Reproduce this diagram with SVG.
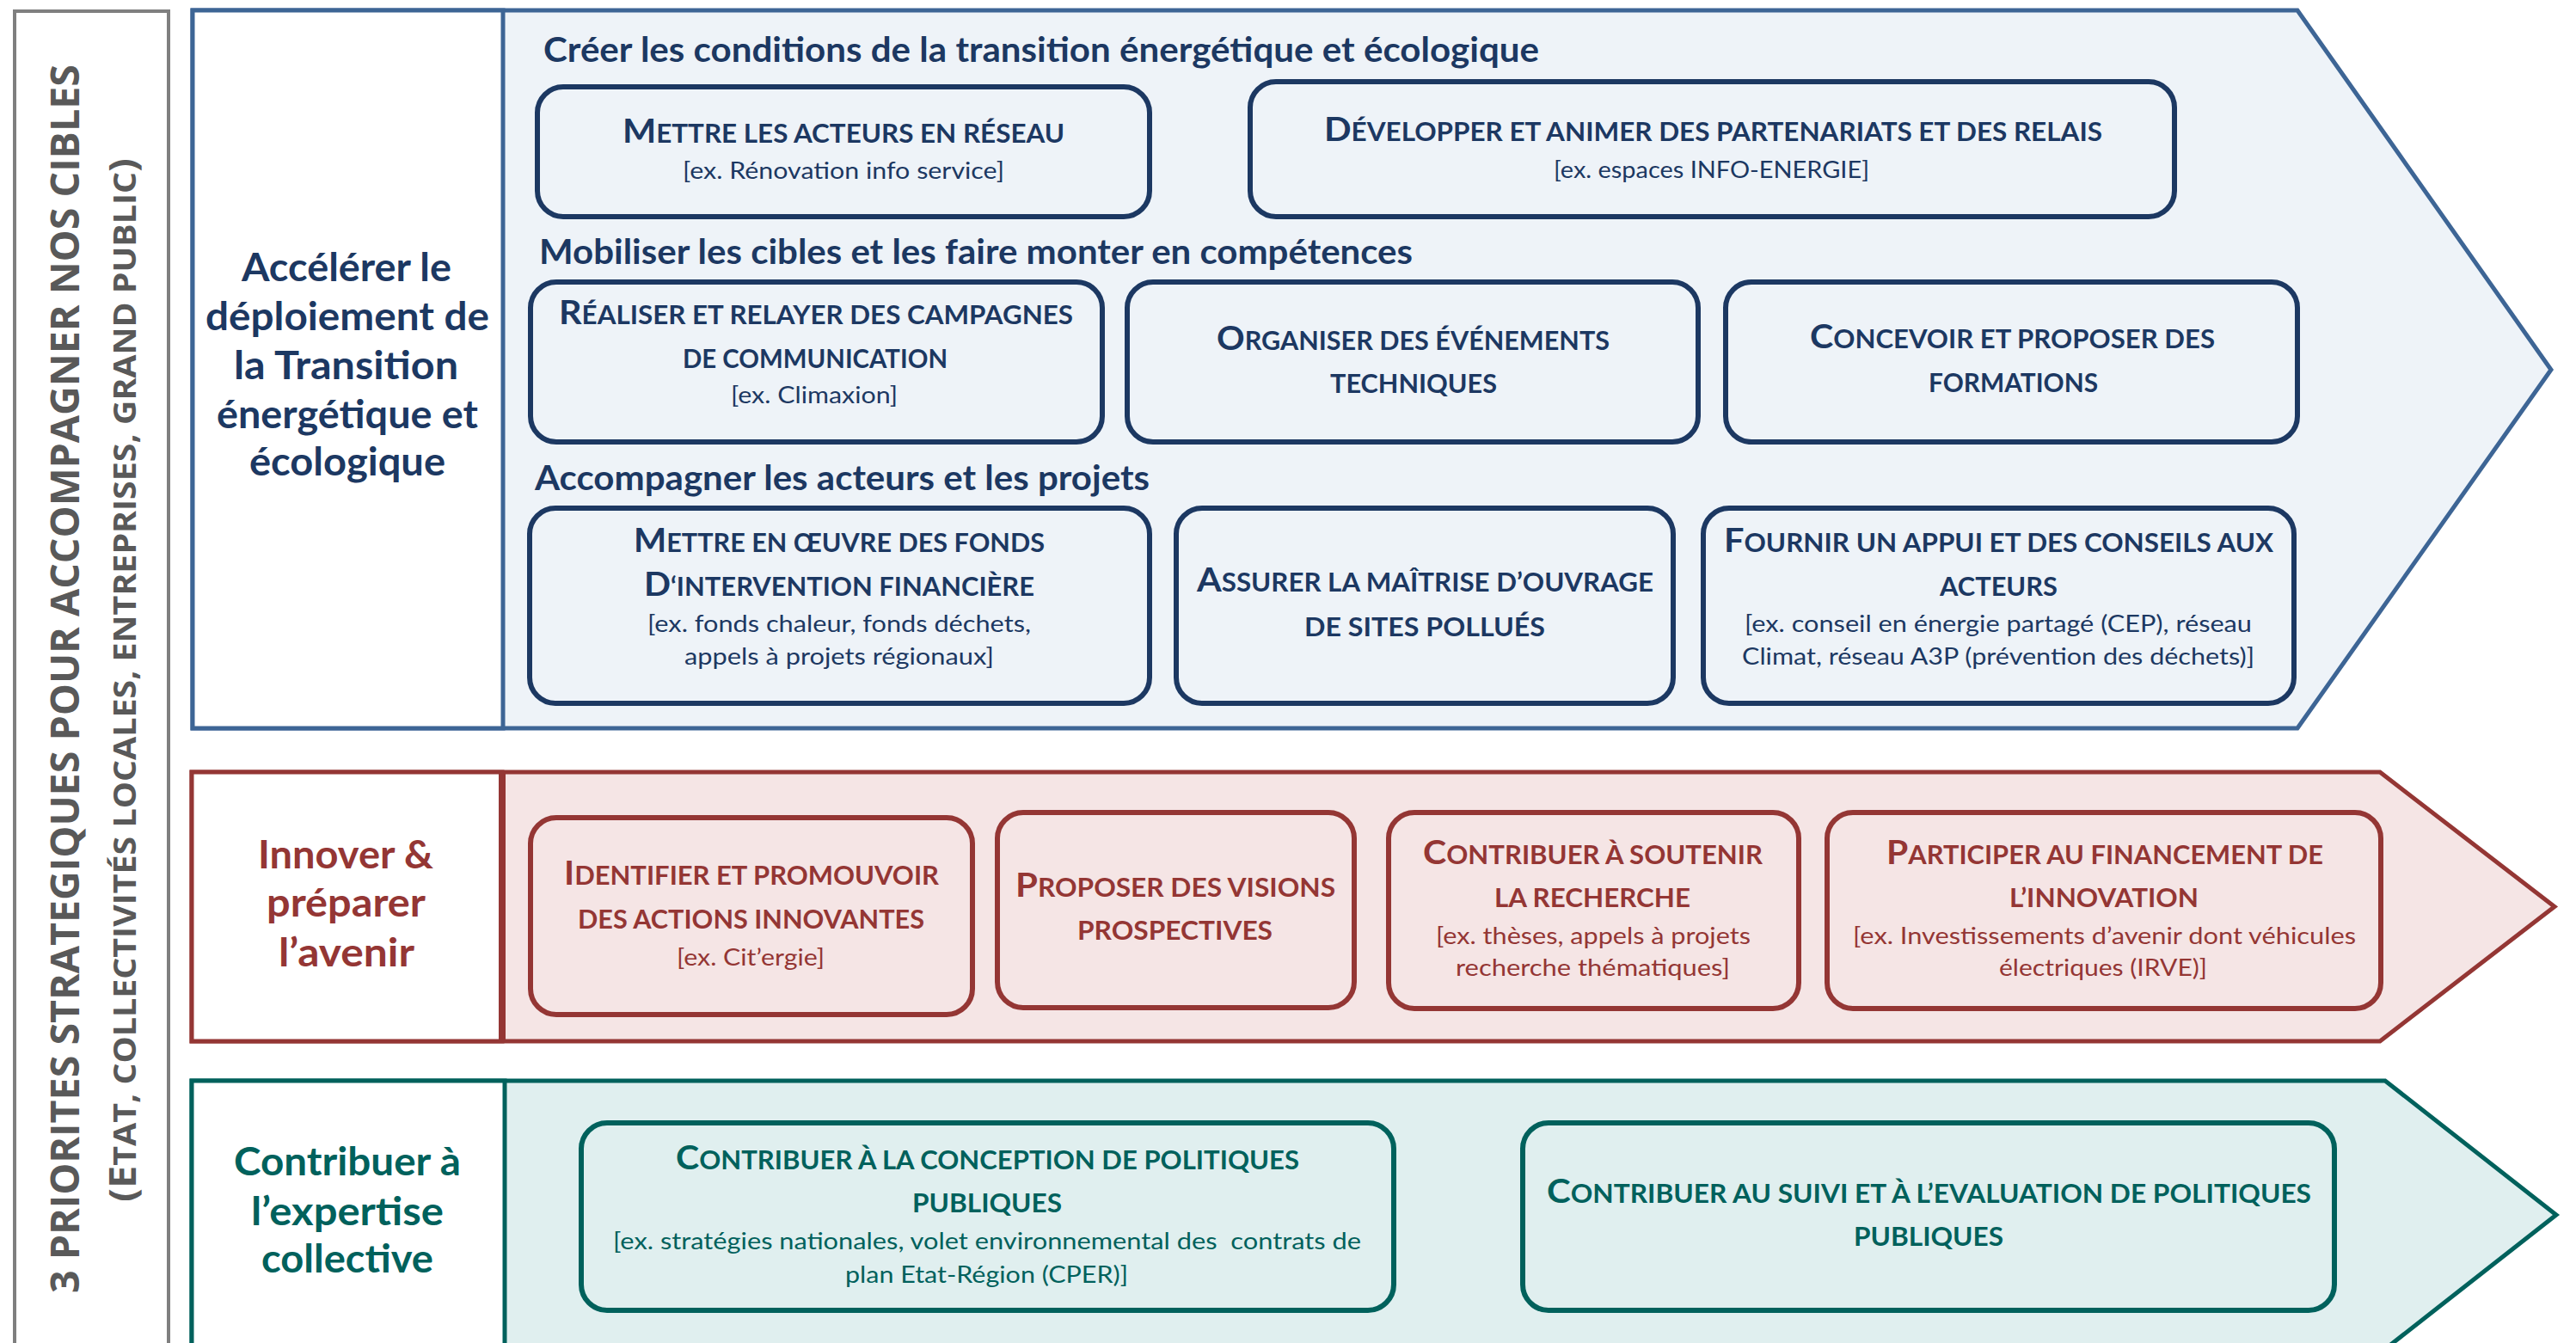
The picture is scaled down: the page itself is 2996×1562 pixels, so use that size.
<svg xmlns="http://www.w3.org/2000/svg" width="2996" height="1562" viewBox="0 0 2996 1562">
<style>
text{font-family:Lato,"Liberation Sans",sans-serif;}
.ti{font-weight:700;font-size:29.5px;}
.ti .c{font-size:39px;}
.su{font-weight:400;font-size:27px;}
.hd{font-weight:700;font-size:41px;}
.lt{font-weight:700;font-size:46px;}
.nb{fill:#1c3862;}
.nr{fill:#943634;}
.nt{fill:#00615c;}
.bx-b{fill:#eef3f8;stroke:#1c3862;stroke-width:6;}
.bx-r{fill:#f5e5e5;stroke:#943634;stroke-width:6;}
.bx-t{fill:#e0efef;stroke:#00615c;stroke-width:6;}
.sec-b{fill:#eef3f8;stroke:#3d6595;stroke-width:5;}
.sec-r{fill:#f5e5e5;stroke:#943634;stroke-width:5;}
.sec-t{fill:#e0efef;stroke:#00615c;stroke-width:5;}
.vt{font-family:"Open Sans","Noto Sans",sans-serif;font-weight:700;fill:#595959;}
</style>
<rect width="2996" height="1562" fill="#ffffff"/>

<g id="side">
<rect x="17" y="13" width="179" height="1600" fill="#ffffff" stroke="#7f7f7f" stroke-width="4"/>
<text class="vt" transform="translate(91.5,1504) rotate(-90)" x="0" y="0" font-size="46" textLength="1429" lengthAdjust="spacingAndGlyphs">3 PRIORITES STRATEGIQUES POUR ACCOMPAGNER NOS CIBLES</text>
<text class="vt" transform="translate(158,1398) rotate(-90)" x="0" y="0" font-size="36" textLength="1214" lengthAdjust="spacingAndGlyphs"><tspan font-size="43">(E</tspan>TAT, COLLECTIVITÉS LOCALES, ENTREPRISES, GRAND PUBLIC<tspan font-size="43">)</tspan></text>
</g>

<g id="section-blue">
<polygon class="sec-b" points="224,12 2672,12 2967,430 2672,847 224,847"/>
<rect x="224" y="12" width="361" height="835" fill="#ffffff" stroke="#3d6595" stroke-width="5"/>
<text class="lt nb" x="281" y="327" textLength="244" lengthAdjust="spacingAndGlyphs">Accélérer le</text>
<text class="lt nb" x="239" y="384" textLength="330" lengthAdjust="spacingAndGlyphs">déploiement de</text>
<text class="lt nb" x="272" y="441" textLength="261" lengthAdjust="spacingAndGlyphs">la Transition</text>
<text class="lt nb" x="252" y="498" textLength="304" lengthAdjust="spacingAndGlyphs">énergétique et</text>
<text class="lt nb" x="290" y="553" textLength="228" lengthAdjust="spacingAndGlyphs">écologique</text>
<text class="hd nb" x="632" y="72" textLength="1158" lengthAdjust="spacingAndGlyphs">Créer les conditions de la transition énergétique et écologique</text>
<text class="hd nb" x="627" y="307" textLength="1016" lengthAdjust="spacingAndGlyphs">Mobiliser les cibles et les faire monter en compétences</text>
<text class="hd nb" x="622" y="570" textLength="715" lengthAdjust="spacingAndGlyphs">Accompagner les acteurs et les projets</text>
</g>

<g id="section-red">
<polygon class="sec-r" points="223,898 2768,898 2971,1054.5 2768,1211 223,1211"/>
<rect x="223" y="898" width="361" height="313" fill="#ffffff" stroke="#943634" stroke-width="5"/>
<line x1="584" y1="898" x2="584" y2="1211" stroke="#943634" stroke-width="8"/>
<text class="lt nr" x="300" y="1010" textLength="204" lengthAdjust="spacingAndGlyphs">Innover &amp;</text>
<text class="lt nr" x="310" y="1066" textLength="185" lengthAdjust="spacingAndGlyphs">préparer</text>
<text class="lt nr" x="324" y="1124" textLength="158" lengthAdjust="spacingAndGlyphs">l’avenir</text>
</g>

<g id="section-teal">
<polygon class="sec-t" points="223,1257 2774,1257 2973,1413 2774,1569 223,1569"/>
<rect x="223" y="1257" width="364" height="320" fill="#ffffff" stroke="#00615c" stroke-width="5"/>
<text class="lt nt" x="272" y="1367" textLength="264" lengthAdjust="spacingAndGlyphs">Contribuer à</text>
<text class="lt nt" x="292" y="1425" textLength="224" lengthAdjust="spacingAndGlyphs">l’expertise</text>
<text class="lt nt" x="304" y="1480" textLength="200" lengthAdjust="spacingAndGlyphs">collective</text>
</g>

<g id="connectors"></g>

<g id="b1">
<rect class="bx-b" x="625" y="101" width="712" height="151" rx="30"/>
<text class="ti nb" x="724" y="166" textLength="514" lengthAdjust="spacingAndGlyphs"><tspan class="c">M</tspan>ETTRE LES ACTEURS EN RÉSEAU</text>
<text class="su nb" x="794" y="208" textLength="374" lengthAdjust="spacingAndGlyphs">[ex. Rénovation info service]</text>
</g>
<g id="b2">
<rect class="bx-b" x="1454" y="95" width="1075" height="157" rx="30"/>
<text class="ti nb" x="1540" y="164" textLength="905" lengthAdjust="spacingAndGlyphs"><tspan class="c">D</tspan>ÉVELOPPER ET ANIMER DES PARTENARIATS ET DES RELAIS</text>
<text class="su nb" x="1807" y="207" textLength="367" lengthAdjust="spacingAndGlyphs">[ex. espaces INFO-ENERGIE]</text>
</g>
<g id="b3">
<rect class="bx-b" x="617" y="328" width="665" height="186" rx="30"/>
<text class="ti nb" x="650" y="377" textLength="598" lengthAdjust="spacingAndGlyphs"><tspan class="c">R</tspan>ÉALISER ET RELAYER DES CAMPAGNES</text>
<text class="ti nb" x="794" y="428" textLength="308" lengthAdjust="spacingAndGlyphs">DE COMMUNICATION</text>
<text class="su nb" x="850" y="469" textLength="194" lengthAdjust="spacingAndGlyphs">[ex. Climaxion]</text>
</g>
<g id="b4">
<rect class="bx-b" x="1311" y="328" width="664" height="186" rx="30"/>
<text class="ti nb" x="1415" y="407" textLength="457" lengthAdjust="spacingAndGlyphs"><tspan class="c">O</tspan>RGANISER DES ÉVÉNEMENTS</text>
<text class="ti nb" x="1547" y="457" textLength="194" lengthAdjust="spacingAndGlyphs">TECHNIQUES</text>
</g>
<g id="b5">
<rect class="bx-b" x="2007" y="328" width="665" height="186" rx="30"/>
<text class="ti nb" x="2105" y="405" textLength="471" lengthAdjust="spacingAndGlyphs"><tspan class="c">C</tspan>ONCEVOIR ET PROPOSER DES</text>
<text class="ti nb" x="2243" y="456" textLength="197" lengthAdjust="spacingAndGlyphs">FORMATIONS</text>
</g>
<g id="b6">
<rect class="bx-b" x="616" y="591" width="721" height="227" rx="30"/>
<text class="ti nb" x="737" y="642" textLength="478" lengthAdjust="spacingAndGlyphs"><tspan class="c">M</tspan>ETTRE EN ŒUVRE DES FONDS</text>
<text class="ti nb" x="749" y="693" textLength="454" lengthAdjust="spacingAndGlyphs"><tspan class="c">D</tspan>‘INTERVENTION FINANCIÈRE</text>
<text class="su nb" x="753" y="735" textLength="446" lengthAdjust="spacingAndGlyphs">[ex. fonds chaleur, fonds déchets,</text>
<text class="su nb" x="796" y="773" textLength="360" lengthAdjust="spacingAndGlyphs">appels à projets régionaux]</text>
</g>
<g id="b7">
<rect class="bx-b" x="1368" y="591" width="578" height="227" rx="30"/>
<text class="ti nb" x="1392" y="688" textLength="531" lengthAdjust="spacingAndGlyphs"><tspan class="c">A</tspan>SSURER LA MAÎTRISE D’OUVRAGE</text>
<text class="ti nb" x="1517" y="740" textLength="280" lengthAdjust="spacingAndGlyphs">DE SITES POLLUÉS</text>
</g>
<g id="b8">
<rect class="bx-b" x="1981" y="591" width="687" height="227" rx="30"/>
<text class="ti nb" x="2005" y="642" textLength="639" lengthAdjust="spacingAndGlyphs"><tspan class="c">F</tspan>OURNIR UN APPUI ET DES CONSEILS AUX</text>
<text class="ti nb" x="2256" y="693" textLength="137" lengthAdjust="spacingAndGlyphs">ACTEURS</text>
<text class="su nb" x="2029" y="735" textLength="590" lengthAdjust="spacingAndGlyphs">[ex. conseil en énergie partagé (CEP), réseau</text>
<text class="su nb" x="2026" y="773" textLength="596" lengthAdjust="spacingAndGlyphs">Climat, réseau A3P (prévention des déchets)]</text>
</g>

<g id="r1">
<rect class="bx-r" x="617" y="951" width="514" height="229" rx="30"/>
<text class="ti nr" x="656" y="1029" textLength="436" lengthAdjust="spacingAndGlyphs"><tspan class="c">I</tspan>DENTIFIER ET PROMOUVOIR</text>
<text class="ti nr" x="672" y="1080" textLength="403" lengthAdjust="spacingAndGlyphs">DES ACTIONS INNOVANTES</text>
<text class="su nr" x="787" y="1123" textLength="172" lengthAdjust="spacingAndGlyphs">[ex. Cit’ergie]</text>
</g>
<g id="r2">
<rect class="bx-r" x="1160" y="945" width="415" height="227" rx="30"/>
<text class="ti nr" x="1181" y="1043" textLength="372" lengthAdjust="spacingAndGlyphs"><tspan class="c">P</tspan>ROPOSER DES VISIONS</text>
<text class="ti nr" x="1253" y="1093" textLength="227" lengthAdjust="spacingAndGlyphs">PROSPECTIVES</text>
</g>
<g id="r3">
<rect class="bx-r" x="1615" y="945" width="477" height="228" rx="30"/>
<text class="ti nr" x="1655" y="1005" textLength="395" lengthAdjust="spacingAndGlyphs"><tspan class="c">C</tspan>ONTRIBUER À SOUTENIR</text>
<text class="ti nr" x="1738" y="1055" textLength="228" lengthAdjust="spacingAndGlyphs">LA RECHERCHE</text>
<text class="su nr" x="1670" y="1098" textLength="366" lengthAdjust="spacingAndGlyphs">[ex. thèses, appels à projets</text>
<text class="su nr" x="1693" y="1135" textLength="319" lengthAdjust="spacingAndGlyphs">recherche thématiques]</text>
</g>
<g id="r4">
<rect class="bx-r" x="2125" y="945" width="644" height="228" rx="30"/>
<text class="ti nr" x="2194" y="1005" textLength="508" lengthAdjust="spacingAndGlyphs"><tspan class="c">P</tspan>ARTICIPER AU FINANCEMENT DE</text>
<text class="ti nr" x="2337" y="1055" textLength="220" lengthAdjust="spacingAndGlyphs">L’INNOVATION</text>
<text class="su nr" x="2155" y="1098" textLength="585" lengthAdjust="spacingAndGlyphs">[ex. Investissements d’avenir dont véhicules</text>
<text class="su nr" x="2325" y="1135" textLength="242" lengthAdjust="spacingAndGlyphs">électriques (IRVE)]</text>
</g>

<g id="t1">
<rect class="bx-t" x="676" y="1306" width="945" height="218" rx="30"/>
<text class="ti nt" x="786" y="1360" textLength="725" lengthAdjust="spacingAndGlyphs"><tspan class="c">C</tspan>ONTRIBUER À LA CONCEPTION DE POLITIQUES</text>
<text class="ti nt" x="1061" y="1410" textLength="174" lengthAdjust="spacingAndGlyphs">PUBLIQUES</text>
<text class="su nt" x="713" y="1453" textLength="870" lengthAdjust="spacingAndGlyphs" xml:space="preserve">[ex. stratégies nationales, volet environnemental des  contrats de</text>
<text class="su nt" x="983" y="1492" textLength="329" lengthAdjust="spacingAndGlyphs">plan Etat-Région (CPER)]</text>
</g>
<g id="t2">
<rect class="bx-t" x="1771" y="1306" width="944" height="218" rx="30"/>
<text class="ti nt" x="1799" y="1399" textLength="889" lengthAdjust="spacingAndGlyphs"><tspan class="c">C</tspan>ONTRIBUER AU SUIVI ET À L’EVALUATION DE POLITIQUES</text>
<text class="ti nt" x="2156" y="1449" textLength="174" lengthAdjust="spacingAndGlyphs">PUBLIQUES</text>
</g>
</svg>
